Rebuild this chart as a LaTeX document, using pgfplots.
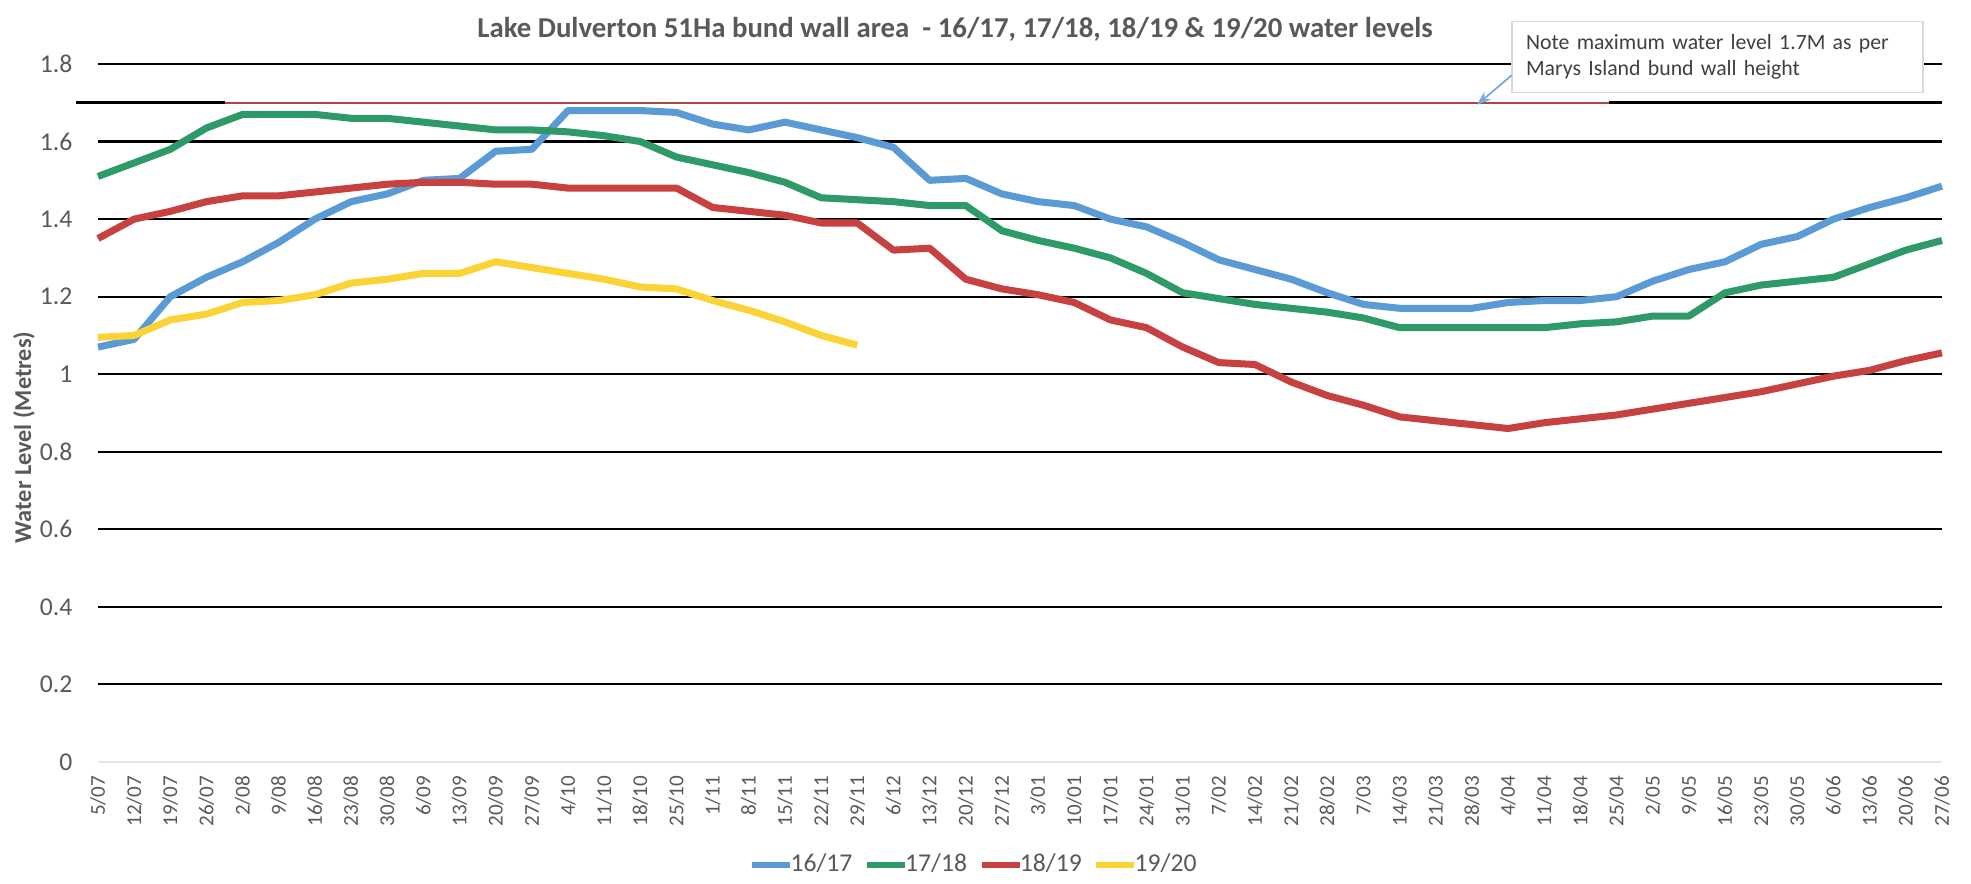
\documentclass[border=0pt]{standalone}
\usepackage{fontspec}
\setmainfont{Carlito}
\usepackage{pgfplots}
\pgfplotsset{compat=1.18}
\usetikzlibrary{arrows.meta}
\definecolor{cblue}{RGB}{91,155,213}
\definecolor{cgreen}{RGB}{46,154,104}
\definecolor{cred}{RGB}{200,65,65}
\definecolor{cyellow}{RGB}{250,212,55}
\definecolor{ctext}{RGB}{89,89,89}
\definecolor{cnote}{RGB}{64,64,64}
\definecolor{cbox}{RGB}{217,217,217}
\definecolor{cmax}{RGB}{170,70,70}
\definecolor{carrow}{RGB}{120,170,220}
\begin{document}
\begin{tikzpicture}
\path[use as bounding box] (0,0) rectangle (19.71cm,8.83cm);
\node[font=\bfseries\fontsize{8.2}{9}\selectfont, text=ctext] at (9.55cm,8.54cm) {Lake Dulverton 51Ha bund wall area\ \ - 16/17, 17/18, 18/19 \& 19/20 water levels};
\begin{axis}[
  at={(0.98cm,1.21cm)}, anchor=south west,
  width=18.44cm, height=6.98cm, scale only axis,
  xmin=0, xmax=51, ymin=0, ymax=1.8,
  clip=false,
  axis line style={draw=none},
  major tick length=0pt,
  ytick={0.2,0.4,0.6,0.8,1,1.2,1.4,1.6,1.8},
  extra y ticks={0},
  extra y tick style={grid style={draw=black!10, line width=0.6pt}},
  ymajorgrids,
  grid style={black, line width=0.6pt},
  /pgf/number format/assume math mode=true,
  yticklabel style={font=\fontsize{7.3}{8}\selectfont, text=ctext, inner sep=0pt},
  yticklabel shift=0.25cm,
  xtick={0,...,51},
  xticklabels={5/07,12/07,19/07,26/07,2/08,9/08,16/08,23/08,30/08,6/09,13/09,20/09,27/09,4/10,11/10,18/10,25/10,1/11,8/11,15/11,22/11,29/11,6/12,13/12,20/12,27/12,3/01,10/01,17/01,24/01,31/01,7/02,14/02,21/02,28/02,7/03,14/03,21/03,28/03,4/04,11/04,18/04,25/04,2/05,9/05,16/05,23/05,30/05,6/06,13/06,20/06,27/06},
  xticklabel style={font=\fontsize{6}{7}\selectfont, text=ctext, rotate=90, anchor=east, inner sep=0pt},
  xticklabel shift=0.13cm,
  ylabel={Water Level (Metres)},
  ylabel style={at={(axis description cs:-0.0401,0.465)}, anchor=center, font=\bfseries\fontsize{6.9}{8}\selectfont, text=ctext},
  legend style={at={(axis description cs:0.475,-0.1476)}, anchor=center, draw=none, fill=none, legend columns=4, font=\fontsize{7.3}{8}\selectfont, text=ctext, /tikz/every even column/.append style={column sep=0.1cm}, /tikz/every odd column/.append style={column sep=-0.04cm}, inner sep=0pt, nodes={inner sep=0.5pt}},
  legend image code/.code={\draw[#1, line width=1.5pt] (0cm,0cm) -- (0.38cm,0cm);},
]
\addplot[black, line width=0.8pt, forget plot] coordinates {(-0.6,1.7) (3.5,1.7)};
\addplot[cmax, line width=0.6pt, forget plot] coordinates {(3.5,1.7) (41.8,1.7)};
\addplot[black, line width=0.8pt, forget plot] coordinates {(41.8,1.7) (51,1.7)};

\addplot[cblue, line width=2pt, line join=round] coordinates {
(0,1.07) (1,1.09) (2,1.20) (3,1.25) (4,1.29) (5,1.34) (6,1.40) (7,1.445) (8,1.465) (9,1.50)
(10,1.505) (11,1.575) (12,1.58) (13,1.68) (14,1.68) (15,1.68) (16,1.675) (17,1.645) (18,1.63) (19,1.65)
(20,1.63) (21,1.61) (22,1.585) (23,1.50) (24,1.505) (25,1.465) (26,1.445) (27,1.435) (28,1.40) (29,1.38)
(30,1.34) (31,1.295) (32,1.27) (33,1.245) (34,1.21) (35,1.18) (36,1.17) (37,1.17) (38,1.17) (39,1.185)
(40,1.19) (41,1.19) (42,1.20) (43,1.24) (44,1.27) (45,1.29) (46,1.335) (47,1.355) (48,1.40) (49,1.43)
(50,1.455) (51,1.485)};
\addlegendentry{16/17}
\addplot[cgreen, line width=2pt, line join=round] coordinates {
(0,1.51) (1,1.545) (2,1.58) (3,1.635) (4,1.67) (5,1.67) (6,1.67) (7,1.66) (8,1.66) (9,1.65)
(10,1.64) (11,1.63) (12,1.63) (13,1.625) (14,1.615) (15,1.60) (16,1.56) (17,1.54) (18,1.52) (19,1.495)
(20,1.455) (21,1.45) (22,1.445) (23,1.435) (24,1.435) (25,1.37) (26,1.345) (27,1.325) (28,1.30) (29,1.26)
(30,1.21) (31,1.195) (32,1.18) (33,1.17) (34,1.16) (35,1.145) (36,1.12) (37,1.12) (38,1.12) (39,1.12)
(40,1.12) (41,1.13) (42,1.135) (43,1.15) (44,1.15) (45,1.21) (46,1.23) (47,1.24) (48,1.25) (49,1.285)
(50,1.32) (51,1.345)};
\addlegendentry{17/18}
\addplot[cred, line width=2pt, line join=round] coordinates {
(0,1.35) (1,1.40) (2,1.42) (3,1.445) (4,1.46) (5,1.46) (6,1.47) (7,1.48) (8,1.49) (9,1.495)
(10,1.495) (11,1.49) (12,1.49) (13,1.48) (14,1.48) (15,1.48) (16,1.48) (17,1.43) (18,1.42) (19,1.41)
(20,1.39) (21,1.39) (22,1.32) (23,1.325) (24,1.245) (25,1.22) (26,1.205) (27,1.185) (28,1.14) (29,1.12)
(30,1.07) (31,1.03) (32,1.025) (33,0.98) (34,0.945) (35,0.92) (36,0.89) (37,0.88) (38,0.87) (39,0.86)
(40,0.875) (41,0.885) (42,0.895) (43,0.91) (44,0.925) (45,0.94) (46,0.955) (47,0.975) (48,0.995) (49,1.01)
(50,1.035) (51,1.055)};
\addlegendentry{18/19}
\addplot[cyellow, line width=2pt, line join=round] coordinates {
(0,1.095) (1,1.10) (2,1.14) (3,1.155) (4,1.185) (5,1.19) (6,1.205) (7,1.235) (8,1.245) (9,1.26)
(10,1.26) (11,1.29) (12,1.275) (13,1.26) (14,1.245) (15,1.225) (16,1.22) (17,1.19) (18,1.165) (19,1.135)
(20,1.10) (21,1.075)};
\addlegendentry{19/20}

\node[draw=cbox, fill=white, anchor=north west, minimum width=4.11cm, minimum height=0.71cm, text width=3.83cm, inner xsep=0.14cm, align=left, font=\fontsize{6.2}{7.4}\selectfont, text=cnote] at (axis cs:39.09,1.912) {Note maximum water level 1.7M as per\\Marys Island bund wall height};
\draw[carrow, line width=0.5pt, -{Stealth[length=4pt,width=3pt]}] (axis cs:39.1,1.771) -- (axis cs:38.14,1.695);
\end{axis}
\end{tikzpicture}
\end{document}
